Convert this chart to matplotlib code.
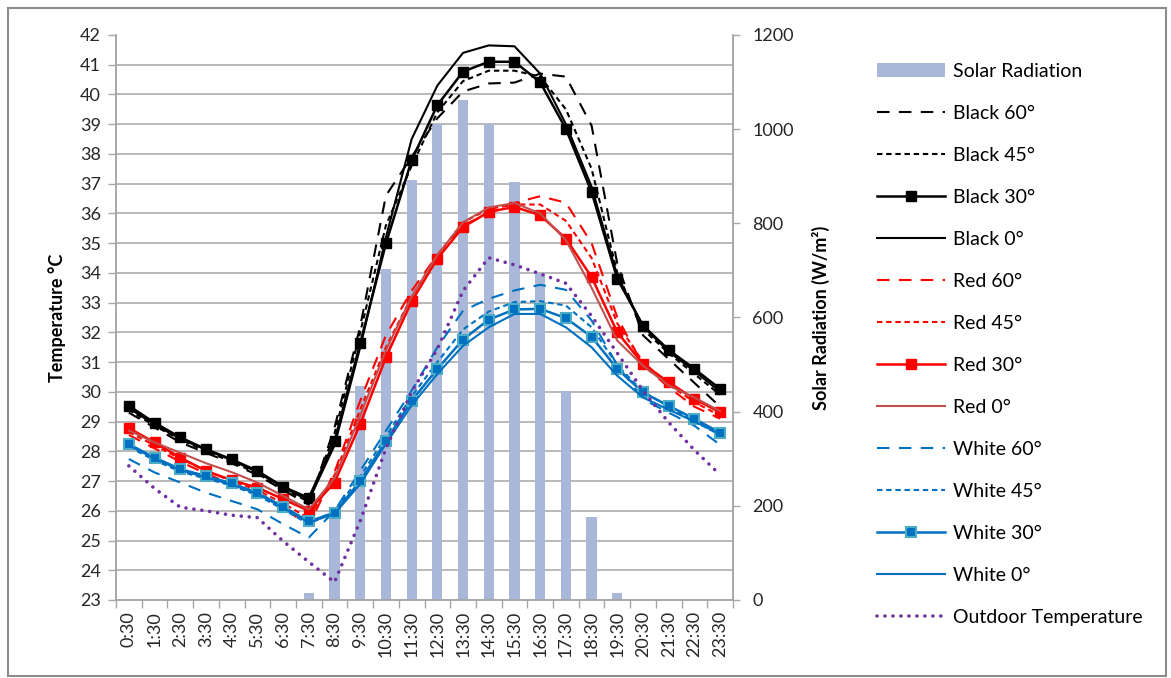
import matplotlib
matplotlib.use("Agg")
import matplotlib.pyplot as plt
from matplotlib.ticker import MultipleLocator, FixedLocator
from matplotlib.patches import Rectangle

plt.rcParams['font.family'] = ['Lato', 'DejaVu Sans']

hours = ['0:30', '1:30', '2:30', '3:30', '4:30', '5:30', '6:30', '7:30', '8:30', '9:30',
         '10:30', '11:30', '12:30', '13:30', '14:30', '15:30', '16:30', '17:30', '18:30',
         '19:30', '20:30', '21:30', '22:30', '23:30']

solar = [0, 0, 0, 0, 0, 0, 0, 14, 190, 455, 702, 893, 1010, 1061, 1012, 888, 694, 444, 177, 14, 0, 0, 0, 0]

black60 = [29.3, 28.8, 28.3, 27.95, 27.6, 27.2, 26.7, 26.2, 28.8, 32.2, 36.6, 37.9, 39.2, 40.1,
           40.37, 40.4, 40.7, 40.6, 38.95, 34.3, 31.9, 31.1, 30.3, 29.5]
black45 = [29.4, 28.85, 28.4, 28.0, 27.65, 27.25, 26.75, 26.3, 28.6, 32.0, 35.6, 37.6, 39.4, 40.45,
           40.8, 40.8, 40.6, 39.5, 37.5, 34.0, 32.1, 31.3, 30.6, 29.9]
black30 = [29.53, 28.96, 28.47, 28.07, 27.73, 27.34, 26.81, 26.43, 28.34, 31.63, 34.99, 37.79, 39.64,
           40.77, 41.1, 41.1, 40.41, 38.84, 36.72, 33.8, 32.23, 31.41, 30.77, 30.1]
black0 = [29.45, 28.9, 28.42, 28.05, 27.7, 27.3, 26.78, 26.35, 28.2, 31.5, 35.2, 38.5, 40.3, 41.4,
          41.65, 41.62, 40.7, 39.0, 36.9, 33.9, 32.2, 31.35, 30.7, 30.0]
red60 = [28.55, 28.1, 27.65, 27.25, 26.9, 26.6, 26.1, 25.5, 27.3, 29.7, 31.9, 33.4, 34.6, 35.6,
         36.0, 36.35, 36.58, 36.36, 35.0, 32.5, 30.9, 30.15, 29.5, 29.1]
red45 = [28.65, 28.2, 27.75, 27.35, 27.0, 26.7, 26.25, 25.75, 27.2, 29.4, 31.5, 33.2, 34.6, 35.7,
         36.15, 36.3, 36.3, 35.75, 34.5, 32.3, 31.0, 30.25, 29.65, 29.2]
red30 = [28.78, 28.3, 27.79, 27.34, 27.03, 26.78, 26.39, 26.0, 26.95, 28.92, 31.16, 33.04, 34.48,
         35.54, 36.05, 36.22, 35.94, 35.15, 33.86, 32.0, 30.94, 30.32, 29.76, 29.31]
red0 = [28.7, 28.3, 27.95, 27.6, 27.3, 26.95, 26.5, 26.05, 27.1, 29.2, 31.4, 33.2, 34.6, 35.7,
        36.2, 36.35, 36.0, 35.1, 33.5, 31.72, 30.88, 30.21, 29.81, 29.35]
white60 = [27.74, 27.29, 26.95, 26.61, 26.33, 26.05, 25.55, 25.1, 26.0, 27.34, 28.69, 30.04, 31.5,
           32.73, 33.13, 33.41, 33.6, 33.43, 32.4, 30.9, 29.75, 29.3, 28.86, 28.22]
white45 = [28.15, 27.7, 27.32, 27.08, 26.85, 26.52, 26.05, 25.55, 26.0, 27.15, 28.5, 29.85, 31.0,
           32.1, 32.7, 33.02, 33.05, 32.9, 32.17, 30.9, 30.0, 29.5, 29.0, 28.55]
white30 = [28.24, 27.79, 27.4, 27.17, 26.92, 26.61, 26.14, 25.64, 25.94, 27.0, 28.35, 29.7, 30.77,
           31.76, 32.43, 32.77, 32.79, 32.48, 31.85, 30.77, 29.98, 29.53, 29.09, 28.63]
white0 = [28.2, 27.75, 27.37, 27.12, 26.88, 26.57, 26.1, 25.6, 25.9, 26.9, 28.25, 29.55, 30.6,
          31.55, 32.17, 32.62, 32.62, 32.17, 31.5, 30.54, 29.81, 29.4, 29.0, 28.58]
outdoor = [27.51, 26.75, 26.12, 26.0, 25.85, 25.77, 24.98, 24.28, 23.6, 25.66, 28.1, 30.0, 31.44,
           33.4, 34.51, 34.27, 33.97, 33.65, 32.55, 31.3, 30.04, 28.97, 28.04, 27.21]

W, H = 1171, 678
fig = plt.figure(figsize=(W / 100, H / 100), dpi=100)
L, R, T, B = 116, 733, 35, 600
ax_r = fig.add_axes([L / W, 1 - B / H, (R - L) / W, (B - T) / H])
ax = ax_r.twinx()
ax_r.yaxis.tick_right()
ax_r.yaxis.set_label_position('right')
ax.yaxis.tick_left()
ax.yaxis.set_label_position('left')
ax.set_zorder(ax_r.get_zorder() + 1)
ax.patch.set_visible(False)

x = list(range(len(hours)))
GRID = '#A6A6A6'
TXT = '#262626'
TICKFS = 13

# bars on the radiation axis
bars = ax_r.bar(x, solar, width=0.4, color='#A9B8D9', zorder=2, label='Solar Radiation')
ax_r.set_ylim(0, 1200)
ax_r.yaxis.set_major_locator(MultipleLocator(200))
ax_r.yaxis.set_minor_locator(MultipleLocator(1200 / 19))
ax_r.set_axisbelow(True)
ax_r.grid(which='minor', axis='y', color=GRID, linewidth=1.1)
ax_r.grid(which='major', axis='y', visible=False)
ax_r.tick_params(axis='y', which='minor', length=0)
ax_r.tick_params(axis='y', which='major', length=5, width=1, color=GRID, pad=9,
                 labelsize=TICKFS, labelcolor=TXT, direction='out')
for t in ax_r.get_yticklabels():
    t.set_horizontalalignment('left')
ax_r.set_ylabel('Solar Radiation (W/m²)', fontsize=13, fontweight='bold', labelpad=13, color='black')

# x axis (categories) on the bar axes, shared with the temperature axes
ax_r.set_xlim(-0.5, len(hours) - 0.5)
ax_r.xaxis.set_major_locator(FixedLocator(x))
ax_r.set_xticklabels(hours, rotation=90, fontsize=TICKFS, color=TXT)
ax_r.xaxis.set_minor_locator(FixedLocator([i - 0.5 for i in range(len(hours) + 1)]))
ax_r.tick_params(axis='x', which='major', length=0, pad=8)
ax_r.tick_params(axis='x', which='minor', length=6, width=1, color=GRID, direction='out')

LONG = (0, (6, 4.5))
SHORT = (0, (2.6, 1.8))
lw = 1.5
lines = []
lines += ax.plot(x, black60, color='black', lw=lw, linestyle=LONG, label='Black 60°')
lines += ax.plot(x, black45, color='black', lw=lw, linestyle=SHORT, label='Black 45°')
lines += ax.plot(x, black30, color='black', lw=1.8, marker='s', markersize=7.5, label='Black 30°')
lines += ax.plot(x, black0, color='black', lw=lw, label='Black 0°')
lines += ax.plot(x, red60, color='#FF0000', lw=lw, linestyle=LONG, label='Red 60°')
lines += ax.plot(x, red45, color='#FF0000', lw=lw, linestyle=SHORT, label='Red 45°')
lines += ax.plot(x, red30, color='#FF0000', lw=1.8, marker='s', markersize=7.5, label='Red 30°')
lines += ax.plot(x, red0, color='#C0504D', lw=lw, label='Red 0°')
lines += ax.plot(x, white60, color='#0070C0', lw=lw, linestyle=LONG, label='White 60°')
lines += ax.plot(x, white45, color='#0070C0', lw=lw, linestyle=SHORT, label='White 45°')
lines += ax.plot(x, white30, color='#0070C0', lw=1.8, marker='s', markersize=7.5,
                 markerfacecolor='#0070C0', markeredgecolor='#4BACC6', markeredgewidth=1.5,
                 label='White 30°')
lines += ax.plot(x, white0, color='#0070C0', lw=lw, label='White 0°')
lines += ax.plot(x, outdoor, color='#7030A0', lw=2.6, linestyle=(0, (0.01, 2.2)),
                 dash_capstyle='round', label='Outdoor Temperature')

ax.set_ylim(23, 42)
ax.yaxis.set_major_locator(MultipleLocator(1))
ax.tick_params(axis='y', which='major', length=6, width=1, color=GRID, pad=5,
               labelsize=TICKFS, labelcolor=TXT, direction='out')
ax.set_ylabel('Temperature °C', fontsize=13, fontweight='bold', labelpad=10, color='black')

for a in (ax, ax_r):
    for s in a.spines.values():
        s.set_color(GRID)
        s.set_linewidth(1.1)
    a.spines['top'].set_visible(False)

handles = [bars] + lines
labels = [h.get_label() for h in handles]
fig.legend(handles, labels, loc='upper left', bbox_to_anchor=(867 / W, 1 - 53 / H),
           frameon=False, fontsize=14, handlelength=3.5, handletextpad=0.42,
           labelspacing=1.285, borderpad=0)

fig.add_artist(Rectangle((8 / W, 2 / H), (1166 - 8) / W, (676 - 8) / H, transform=fig.transFigure,
                         fill=False, edgecolor='#8C8C8C', linewidth=1.5))

fig.savefig('out.png', dpi=100)
